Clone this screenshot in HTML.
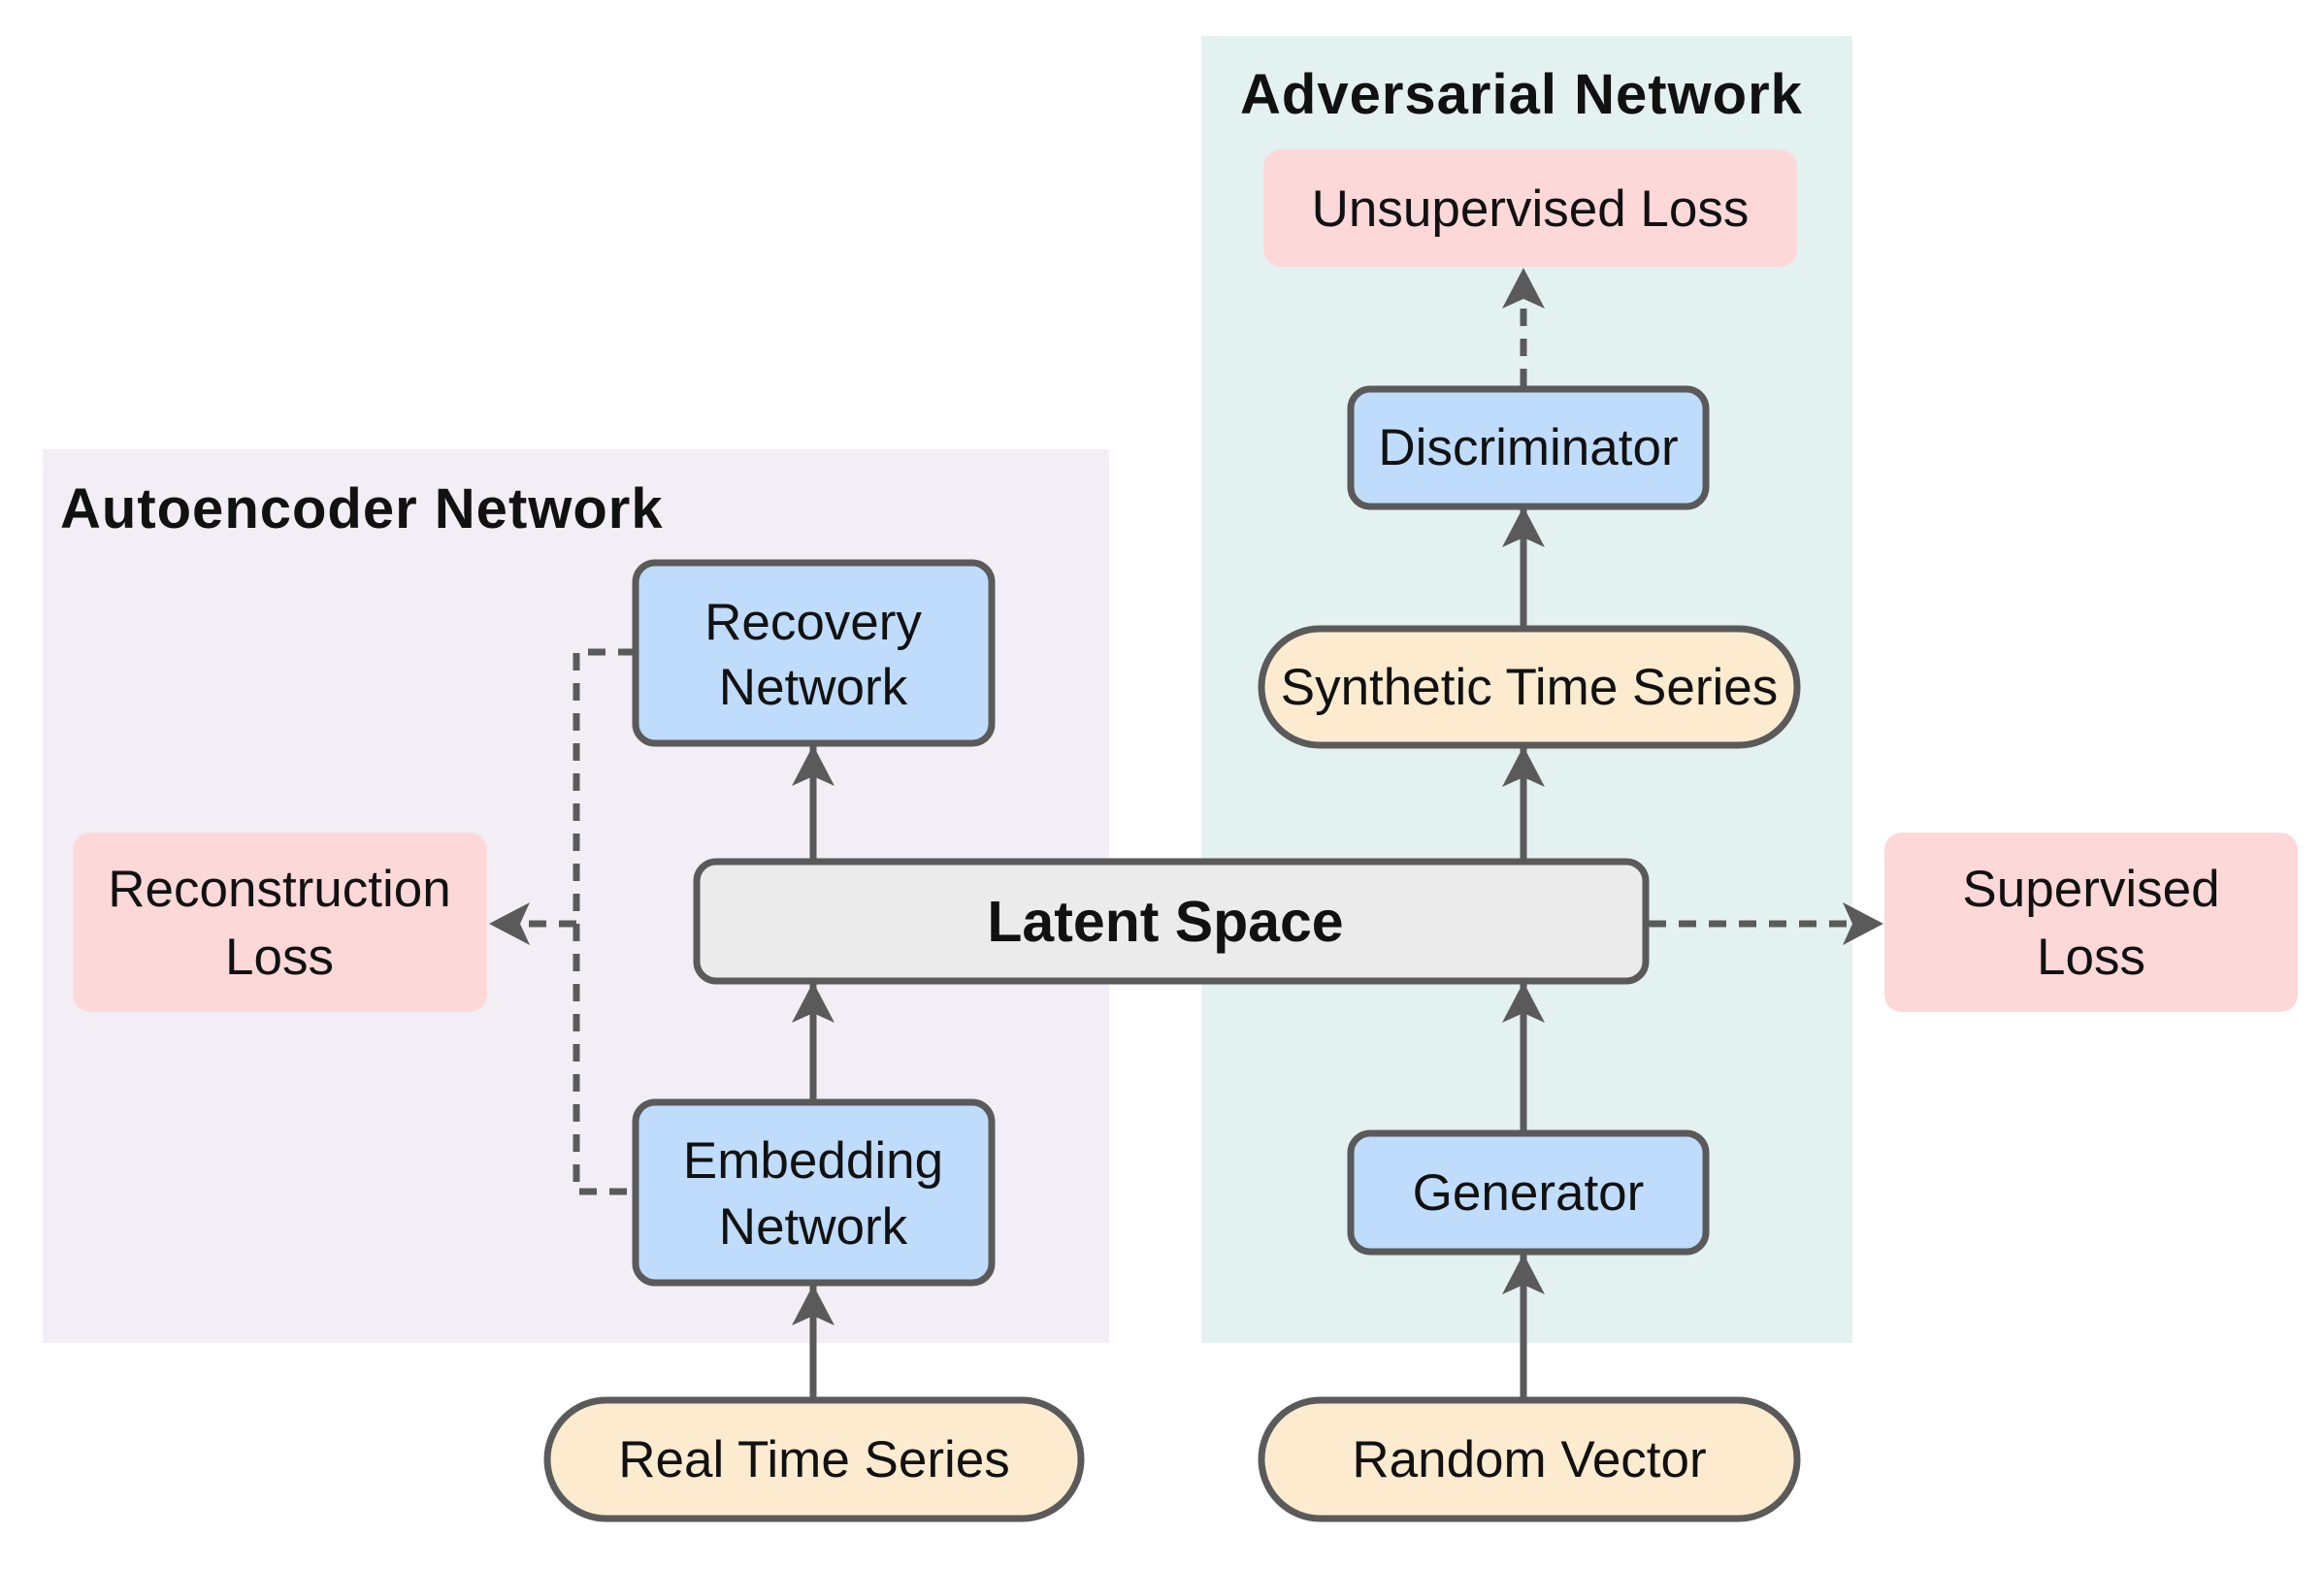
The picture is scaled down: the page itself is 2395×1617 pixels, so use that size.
<!DOCTYPE html>
<html><head><meta charset="utf-8"><style>
html,body{margin:0;padding:0;background:#fff;}
svg{display:block;}
text{font-family:"Liberation Sans","DejaVu Sans",sans-serif;fill:#111;}
</style></head><body>
<svg width="2395" height="1617" viewBox="0 0 2395 1617" xmlns="http://www.w3.org/2000/svg">
<defs>
<marker id="ah" markerUnits="userSpaceOnUse" markerWidth="50" markerHeight="44" refX="42" refY="22" orient="auto">
<path d="M0,0 L42,22 L0,44 L10,22 Z" fill="#5a5a5a"/>
</marker>
</defs>
<rect x="44" y="463" width="1099" height="921" fill="#f3eef5"/>
<rect x="1238" y="37" width="671" height="1347" fill="#e4f1f1"/>
<text x="62" y="544" font-size="58" font-weight="bold" letter-spacing="1">Autoencoder Network</text>
<text x="1278" y="117" font-size="58" font-weight="bold" letter-spacing="1">Adversarial Network</text>

<g transform="translate(-2,-4)">
<g stroke="#5a5a5a" stroke-width="7" fill="none" marker-end="url(#ah)">
<line x1="840" y1="1446" x2="840" y2="1328"/>
<line x1="840" y1="1139" x2="840" y2="1016"/>
<line x1="840" y1="892" x2="840" y2="772"/>
<line x1="1572" y1="1446" x2="1572" y2="1296"/>
<line x1="1572" y1="1171" x2="1572" y2="1016"/>
<line x1="1572" y1="892" x2="1572" y2="773"/>
<line x1="1572" y1="649" x2="1572" y2="526"/>
</g>
<g stroke="#5a5a5a" stroke-width="7" fill="none" stroke-dasharray="18,13">
<polyline points="657,676 596,676 596,1232 657,1232"/>
<line x1="596" y1="956" x2="506" y2="956" marker-end="url(#ah)"/>
<line x1="1701" y1="956" x2="1943" y2="956" marker-end="url(#ah)"/>
<line x1="1572" y1="402" x2="1572" y2="280" marker-end="url(#ah)"/>
</g>

<rect x="1304" y="158" width="550" height="121" rx="18" fill="#fdd8d8"/>
<text x="1579" y="237" font-size="53" text-anchor="middle">Unsupervised Loss</text>
<rect x="77" y="862" width="427" height="185" rx="18" fill="#fdd8d8"/>
<text x="290" y="938" font-size="53" text-anchor="middle">Reconstruction</text>
<text x="290" y="1008" font-size="53" text-anchor="middle">Loss</text>
<rect x="1944" y="862" width="426" height="185" rx="18" fill="#fdd8d8"/>
<text x="2157" y="938" font-size="53" text-anchor="middle">Supervised</text>
<text x="2157" y="1008" font-size="53" text-anchor="middle">Loss</text>

<g stroke="#5a5a5a" stroke-width="7">
<rect x="1394" y="405" width="366" height="121" rx="20" fill="#bfdcfc"/>
<rect x="1302" y="652" width="552" height="120" rx="60" fill="#fdebd0"/>
<rect x="720" y="892" width="978" height="123" rx="20" fill="#ebebeb"/>
<rect x="657" y="584" width="367" height="186" rx="20" fill="#bfdcfc"/>
<rect x="657" y="1140" width="367" height="186" rx="20" fill="#bfdcfc"/>
<rect x="1394" y="1172" width="366" height="122" rx="20" fill="#bfdcfc"/>
<rect x="566" y="1447" width="550" height="122" rx="61" fill="#fdebd0"/>
<rect x="1302" y="1447" width="552" height="122" rx="61" fill="#fdebd0"/>
</g>
<text x="1577" y="483" font-size="53" text-anchor="middle">Discriminator</text>
<text x="1578" y="730" font-size="53" text-anchor="middle">Synthetic Time Series</text>
<text x="1203" y="974" font-size="59" font-weight="bold" text-anchor="middle">Latent Space</text>
<text x="840" y="663" font-size="53" text-anchor="middle">Recovery</text>
<text x="840" y="730" font-size="53" text-anchor="middle">Network</text>
<text x="840" y="1218" font-size="53" text-anchor="middle">Embedding</text>
<text x="840" y="1286" font-size="53" text-anchor="middle">Network</text>
<text x="1577" y="1251" font-size="53" text-anchor="middle">Generator</text>
<text x="841" y="1526" font-size="53" text-anchor="middle">Real Time Series</text>
<text x="1578" y="1526" font-size="53" text-anchor="middle">Random Vector</text>
</g>
</svg>
</body></html>
